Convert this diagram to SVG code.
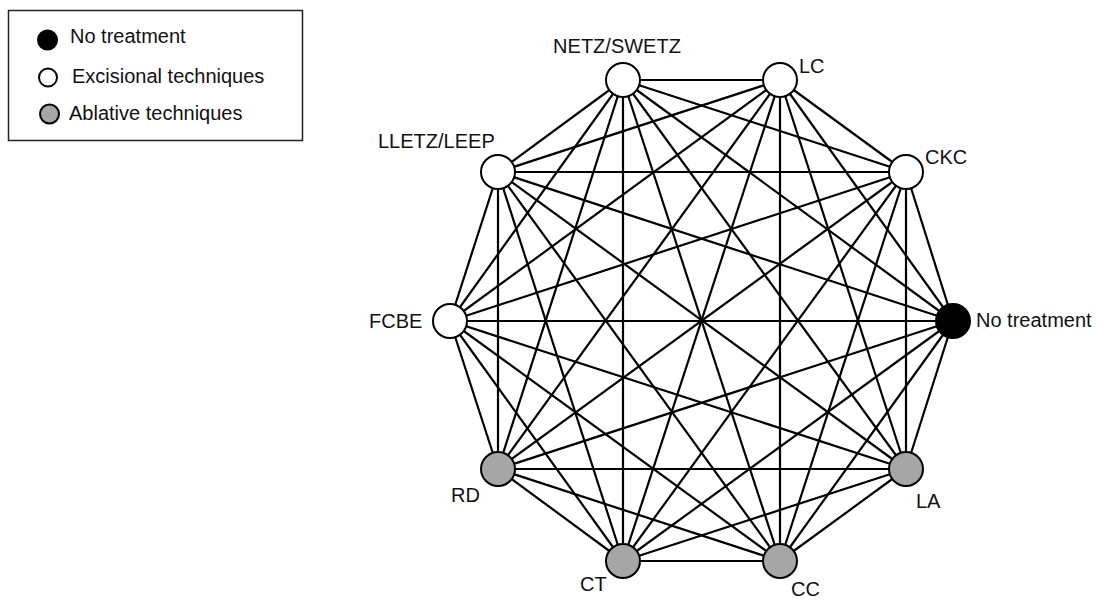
<svg xmlns="http://www.w3.org/2000/svg" width="1097" height="600" viewBox="0 0 1097 600">
<style>
text{font-family:"Liberation Sans",Arial,sans-serif;font-size:20px;fill:#111}
.e line{stroke:#000;stroke-width:2.2}
.n{stroke:#000;stroke-width:2}
.w{fill:#fff}.g{fill:#a6a6a6}.b{fill:#000}
</style>
<rect width="1097" height="600" fill="#fff"/>
<g id="legend">
<rect x="8.5" y="10.5" width="294" height="130" fill="#fff" stroke="#222" stroke-width="1.5"/>
<circle class="n b" cx="47.5" cy="40" r="9.5"/>
<text x="70" y="43">No treatment</text>
<circle class="n w" cx="48" cy="77.5" r="9"/>
<text x="72" y="83">Excisional techniques</text>
<circle class="n g" cx="49.5" cy="114" r="9.5"/>
<text x="69" y="120">Ablative techniques</text>
</g>
<g id="connectors" class="e">
<line x1="623" y1="80" x2="780" y2="80"/>
<line x1="623" y1="80" x2="906" y2="172"/>
<line x1="623" y1="80" x2="953" y2="321"/>
<line x1="623" y1="80" x2="906" y2="469"/>
<line x1="623" y1="80" x2="780" y2="561"/>
<line x1="623" y1="80" x2="623" y2="561"/>
<line x1="623" y1="80" x2="498" y2="469"/>
<line x1="623" y1="80" x2="450" y2="321"/>
<line x1="623" y1="80" x2="498" y2="172"/>
<line x1="780" y1="80" x2="906" y2="172"/>
<line x1="780" y1="80" x2="953" y2="321"/>
<line x1="780" y1="80" x2="906" y2="469"/>
<line x1="780" y1="80" x2="780" y2="561"/>
<line x1="780" y1="80" x2="623" y2="561"/>
<line x1="780" y1="80" x2="498" y2="469"/>
<line x1="780" y1="80" x2="450" y2="321"/>
<line x1="780" y1="80" x2="498" y2="172"/>
<line x1="906" y1="172" x2="953" y2="321"/>
<line x1="906" y1="172" x2="906" y2="469"/>
<line x1="906" y1="172" x2="780" y2="561"/>
<line x1="906" y1="172" x2="623" y2="561"/>
<line x1="906" y1="172" x2="498" y2="469"/>
<line x1="906" y1="172" x2="450" y2="321"/>
<line x1="906" y1="172" x2="498" y2="172"/>
<line x1="953" y1="321" x2="906" y2="469"/>
<line x1="953" y1="321" x2="780" y2="561"/>
<line x1="953" y1="321" x2="623" y2="561"/>
<line x1="953" y1="321" x2="498" y2="469"/>
<line x1="953" y1="321" x2="450" y2="321"/>
<line x1="953" y1="321" x2="498" y2="172"/>
<line x1="906" y1="469" x2="780" y2="561"/>
<line x1="906" y1="469" x2="623" y2="561"/>
<line x1="906" y1="469" x2="498" y2="469"/>
<line x1="906" y1="469" x2="450" y2="321"/>
<line x1="906" y1="469" x2="498" y2="172"/>
<line x1="780" y1="561" x2="623" y2="561"/>
<line x1="780" y1="561" x2="498" y2="469"/>
<line x1="780" y1="561" x2="450" y2="321"/>
<line x1="780" y1="561" x2="498" y2="172"/>
<line x1="623" y1="561" x2="498" y2="469"/>
<line x1="623" y1="561" x2="450" y2="321"/>
<line x1="623" y1="561" x2="498" y2="172"/>
<line x1="498" y1="469" x2="450" y2="321"/>
<line x1="498" y1="469" x2="498" y2="172"/>
<line x1="450" y1="321" x2="498" y2="172"/>
</g>
<g id="node-netz"><circle class="n w" cx="623" cy="80" r="17"/><text x="617" y="53" text-anchor="middle">NETZ/SWETZ</text></g>
<g id="node-lc"><circle class="n w" cx="780" cy="80" r="17"/><text x="799" y="73">LC</text></g>
<g id="node-ckc"><circle class="n w" cx="906" cy="172" r="17"/><text x="925" y="164">CKC</text></g>
<g id="node-notreatment"><circle class="n b" cx="953" cy="321" r="17"/><text x="976" y="327">No treatment</text></g>
<g id="node-la"><circle class="n g" cx="906" cy="469" r="17"/><text x="916" y="508">LA</text></g>
<g id="node-cc"><circle class="n g" cx="780" cy="561" r="17"/><text x="791" y="596">CC</text></g>
<g id="node-ct"><circle class="n g" cx="623" cy="561" r="17"/><text x="580" y="591">CT</text></g>
<g id="node-rd"><circle class="n g" cx="498" cy="469" r="17"/><text x="451" y="502">RD</text></g>
<g id="node-fcbe"><circle class="n w" cx="450" cy="321" r="17"/><text x="369" y="328">FCBE</text></g>
<g id="node-lletz"><circle class="n w" cx="498" cy="172" r="17"/><text x="378" y="148">LLETZ/LEEP</text></g>
</svg>
